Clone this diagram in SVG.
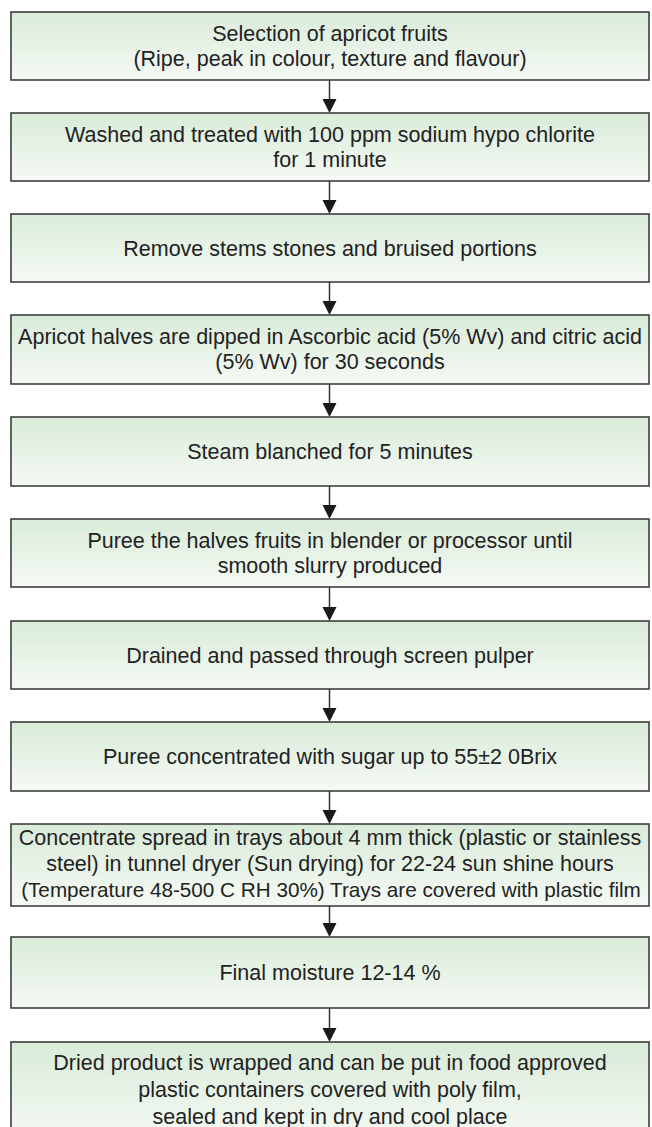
<svg xmlns="http://www.w3.org/2000/svg" width="652" height="1127" viewBox="0 0 652 1127">
<defs>
<linearGradient id="g" x1="0" y1="0" x2="0" y2="1">
<stop offset="0" stop-color="#d9ebd9"/>
<stop offset="1" stop-color="#f5faf4"/>
</linearGradient>
<style>
.box{fill:url(#g);stroke:#333;stroke-width:1.5}
.t{font-family:"Liberation Sans",Arial,sans-serif;font-size:21.5px;fill:#222;text-anchor:middle}
.c{stroke:#333;stroke-width:1.5;fill:none}
.h{fill:#1a1a1a}
</style>
</defs>
<rect width="652" height="1127" fill="#fff"/>
<g id="connectors">
<line class="c" x1="329.5" y1="80" x2="329.5" y2="99"/><path class="h" d="M322.5,99 L336.5,99 L329.5,113 Z"/>
<line class="c" x1="329.5" y1="181" x2="329.5" y2="200"/><path class="h" d="M322.5,200 L336.5,200 L329.5,214 Z"/>
<line class="c" x1="329.5" y1="282" x2="329.5" y2="301"/><path class="h" d="M322.5,301 L336.5,301 L329.5,315 Z"/>
<line class="c" x1="329.5" y1="384" x2="329.5" y2="403"/><path class="h" d="M322.5,403 L336.5,403 L329.5,417 Z"/>
<line class="c" x1="329.5" y1="486" x2="329.5" y2="505"/><path class="h" d="M322.5,505 L336.5,505 L329.5,519 Z"/>
<line class="c" x1="329.5" y1="587" x2="329.5" y2="607"/><path class="h" d="M322.5,607 L336.5,607 L329.5,621 Z"/>
<line class="c" x1="329.5" y1="689" x2="329.5" y2="708"/><path class="h" d="M322.5,708 L336.5,708 L329.5,722 Z"/>
<line class="c" x1="329.5" y1="791" x2="329.5" y2="810"/><path class="h" d="M322.5,810 L336.5,810 L329.5,824 Z"/>
<line class="c" x1="329.5" y1="906" x2="329.5" y2="923"/><path class="h" d="M322.5,923 L336.5,923 L329.5,937 Z"/>
<line class="c" x1="329.5" y1="1008" x2="329.5" y2="1028"/><path class="h" d="M322.5,1028 L336.5,1028 L329.5,1042 Z"/>
</g>
<g id="n1"><rect class="box" x="11" y="12" width="638" height="68"/>
<text class="t" x="330" y="41">Selection of apricot fruits</text>
<text class="t" x="330" y="66">(Ripe, peak in colour, texture and flavour)</text></g>
<g id="n2"><rect class="box" x="11" y="113" width="638" height="68"/>
<text class="t" x="330" y="142">Washed and treated with 100 ppm sodium hypo chlorite</text>
<text class="t" x="330" y="167">for 1 minute</text></g>
<g id="n3"><rect class="box" x="11" y="214" width="638" height="68"/>
<text class="t" x="330" y="256">Remove stems stones and bruised portions</text></g>
<g id="n4"><rect class="box" x="11" y="315" width="638" height="69"/>
<text class="t" x="330" y="344">Apricot halves are dipped in Ascorbic acid (5% Wv) and citric acid</text>
<text class="t" x="330" y="369">(5% Wv) for 30 seconds</text></g>
<g id="n5"><rect class="box" x="11" y="417" width="638" height="69"/>
<text class="t" x="330" y="459">Steam blanched for 5 minutes</text></g>
<g id="n6"><rect class="box" x="11" y="519" width="638" height="68"/>
<text class="t" x="330" y="548">Puree the halves fruits in blender or processor until</text>
<text class="t" x="330" y="573">smooth slurry produced</text></g>
<g id="n7"><rect class="box" x="11" y="621" width="638" height="68"/>
<text class="t" x="330" y="663">Drained and passed through screen pulper</text></g>
<g id="n8"><rect class="box" x="11" y="722" width="638" height="69"/>
<text class="t" x="330" y="764">Puree concentrated with sugar up to 55±2 0Brix</text></g>
<g id="n9"><rect class="box" x="11" y="824" width="638" height="82"/>
<text class="t" x="330" y="845">Concentrate spread in trays about 4 mm thick (plastic or stainless</text>
<text class="t" x="330" y="871">steel) in tunnel dryer (Sun drying) for 22-24 sun shine hours</text>
<text class="t" x="331" y="897" style="font-size:20.7px">(Temperature 48-500 C RH 30%) Trays are covered with plastic film</text></g>
<g id="n10"><rect class="box" x="11" y="937" width="638" height="71"/>
<text class="t" x="330" y="980">Final moisture 12-14 %</text></g>
<g id="n11"><rect class="box" x="11" y="1042" width="638" height="100"/>
<text class="t" x="330" y="1070">Dried product is wrapped and can be put in food approved</text>
<text class="t" x="330" y="1097">plastic containers covered with poly film,</text>
<text class="t" x="330" y="1124">sealed and kept in dry and cool place</text></g>
</svg>
